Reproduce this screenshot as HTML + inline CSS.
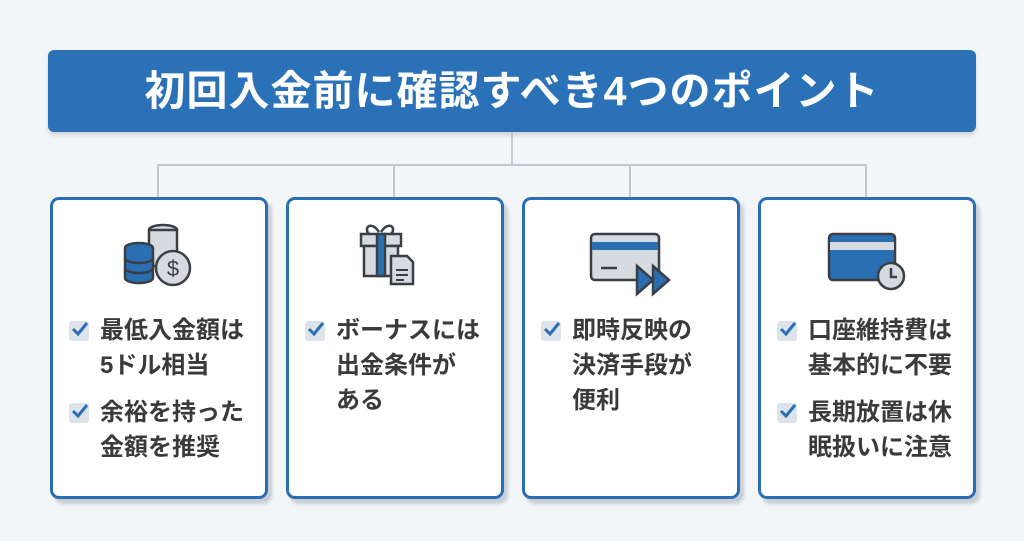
<!DOCTYPE html>
<html><head><meta charset="utf-8"><style>
body{margin:0;width:1024px;height:541px;background:#f3f6f9;position:relative;overflow:hidden;font-family:"Liberation Sans","Noto Sans CJK JP",sans-serif}
.title{position:absolute;left:48px;top:50px;width:928px;height:82px;background:#2b71b8;border-radius:6px;color:#fff;font-weight:bold;font-size:41px;text-align:center;line-height:82px;letter-spacing:1px;box-shadow:0 3px 4px rgba(0,0,0,.15)}
.ln{position:absolute;background:#c4c9cf}
.card{position:absolute;top:197px;width:212px;height:296px;border:3px solid #2b6fb3;border-radius:9px;background:#fff;box-shadow:4px 5px 3px rgba(120,130,145,.35)}
.item{position:absolute;left:47px;font-size:24px;font-weight:bold;color:#3a3a3a;line-height:35px;width:170px}
.cb{position:absolute;left:-31px;top:8px;width:20px;height:20px;background:#dde3ea;border-radius:3px}
.cb svg{position:absolute;left:1px;top:-2px}
.icon{position:absolute;left:0;top:18px;width:212px;height:80px}
</style></head><body>
<div class="title">初回入金前に確認すべき4つのポイント</div>
<div class="ln" style="left:511px;top:132px;width:2px;height:34px"></div>
<div class="ln" style="left:157px;top:164px;width:710px;height:2px"></div>
<div class="ln" style="left:157px;top:164px;width:2px;height:34px"></div>
<div class="ln" style="left:393px;top:164px;width:2px;height:34px"></div>
<div class="ln" style="left:629px;top:164px;width:2px;height:34px"></div>
<div class="ln" style="left:865px;top:164px;width:2px;height:34px"></div>

<div class="card" style="left:50px">
<svg class="icon" viewBox="0 0 212 80">
<g stroke="#3a3f45" stroke-width="2.5">
<ellipse cx="110" cy="12" rx="14" ry="5" fill="#d6dbe0"/><rect x="96" y="12" width="28" height="36" fill="#d6dbe0"/>
<ellipse cx="86" cy="30" rx="14" ry="5" fill="#2b6fb3"/><path d="M72 30v30a14 5 0 0 0 28 0v-30" fill="#2b6fb3"/>
<path d="M72 40a14 5 0 0 0 28 0M72 50a14 5 0 0 0 28 0" fill="none"/>
<circle cx="120" cy="50" r="17" fill="#d6dbe0"/></g>
<text x="120" y="58" font-size="22" text-anchor="middle" fill="#3a3f45" font-family="Liberation Sans">$</text>
</svg>
<div class="item" style="top:113px"><span class="cb"><svg width="20" height="20"><path d="M3 10l5 5 9-11" stroke="#2b6fb3" stroke-width="3" fill="none"/></svg></span>最低入金額は<br>5ドル相当</div>
<div class="item" style="top:195px"><span class="cb"><svg width="20" height="20"><path d="M3 10l5 5 9-11" stroke="#2b6fb3" stroke-width="3" fill="none"/></svg></span>余裕を持った<br>金額を推奨</div>
</div>

<div class="card" style="left:286px">
<svg class="icon" viewBox="0 0 212 80">
<g stroke="#3a3f45" stroke-width="2.5">
<path d="M90 14c-8-12-16-4-10 2M92 14c8-12 16-4 10 2" fill="none"/>
<rect x="72" y="16" width="40" height="12" fill="#d6dbe0"/><rect x="75" y="28" width="34" height="30" fill="#d6dbe0"/>
<rect x="88" y="16" width="8" height="42" fill="#2b6fb3"/>
<path d="M102 38h16l6 6v22h-22z" fill="#d6dbe0"/>
<path d="M107 52h12M107 57h12M107 62h8" fill="none" stroke-width="2"/></g>
</svg>
<div class="item" style="top:113px"><span class="cb"><svg width="20" height="20"><path d="M3 10l5 5 9-11" stroke="#2b6fb3" stroke-width="3" fill="none"/></svg></span>ボーナスには<br>出金条件が<br>ある</div>
</div>

<div class="card" style="left:522px">
<svg class="icon" viewBox="0 0 212 80">
<g stroke="#3a3f45" stroke-width="2.5">
<rect x="66" y="16" width="68" height="46" rx="4" fill="#d6dbe0"/>
<rect x="67" y="24" width="66" height="8" fill="#2b6fb3" stroke="none"/>
<path d="M76 50h16" />
<path d="M112 48l16 14-16 14zM128 48l16 14-16 14z" fill="#2b6fb3"/></g>
</svg>
<div class="item" style="top:113px"><span class="cb"><svg width="20" height="20"><path d="M3 10l5 5 9-11" stroke="#2b6fb3" stroke-width="3" fill="none"/></svg></span>即時反映の<br>決済手段が<br>便利</div>
</div>

<div class="card" style="left:758px">
<svg class="icon" viewBox="0 0 212 80">
<g stroke="#3a3f45" stroke-width="2.5">
<rect x="68" y="16" width="66" height="46" rx="4" fill="#2b6fb3"/>
<rect x="69" y="24" width="64" height="8" fill="#d6dbe0" stroke="none"/>
<circle cx="130" cy="58" r="13" fill="#d6dbe0"/>
<path d="M130 50v9h6" fill="none"/></g>
</svg>
<div class="item" style="top:113px"><span class="cb"><svg width="20" height="20"><path d="M3 10l5 5 9-11" stroke="#2b6fb3" stroke-width="3" fill="none"/></svg></span>口座維持費は<br>基本的に不要</div>
<div class="item" style="top:195px"><span class="cb"><svg width="20" height="20"><path d="M3 10l5 5 9-11" stroke="#2b6fb3" stroke-width="3" fill="none"/></svg></span>長期放置は休<br>眠扱いに注意</div>
</div>
</body></html>
